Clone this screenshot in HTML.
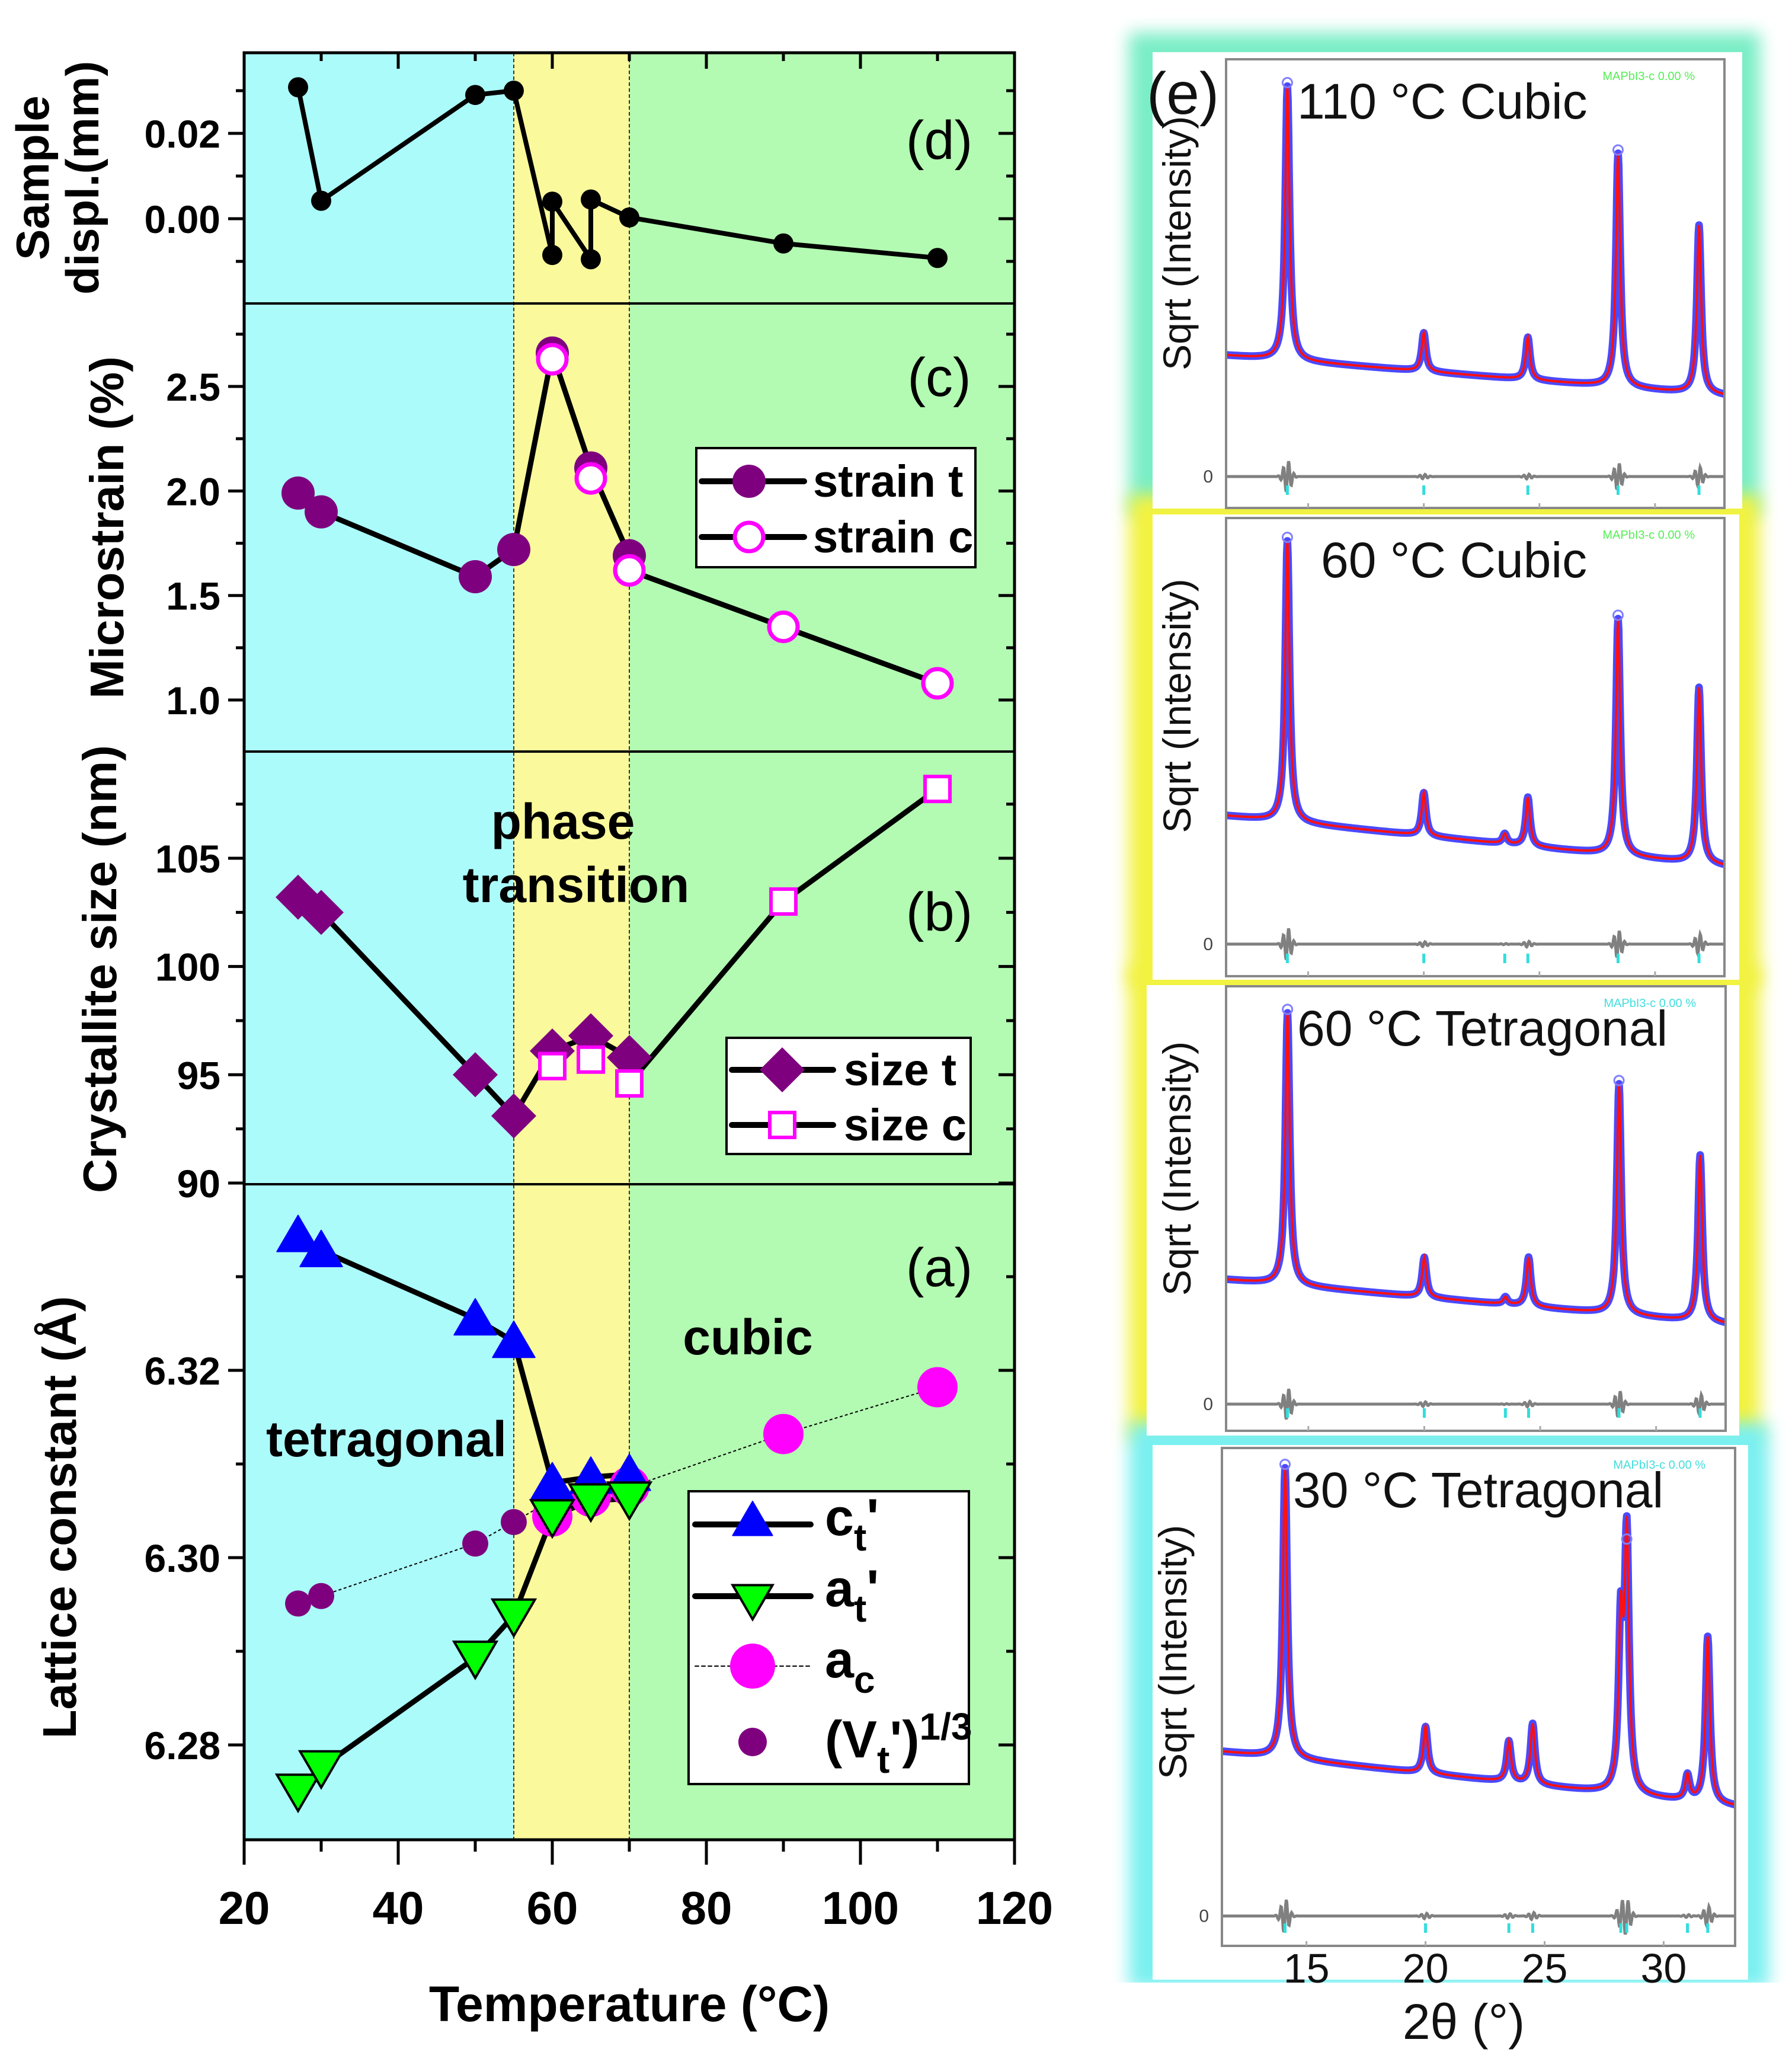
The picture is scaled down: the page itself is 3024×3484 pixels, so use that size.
<!DOCTYPE html>
<html><head><meta charset="utf-8">
<style>
html,body{margin:0;padding:0;background:#fff;}
svg{display:block;}
text{font-family:"Liberation Sans",sans-serif;}
</style></head>
<body>
<svg id="fig" xmlns="http://www.w3.org/2000/svg" width="3024" height="3484" viewBox="0 0 3024 3484">
<defs>
<filter id="blur" x="-10%" y="-10%" width="120%" height="120%"><feGaussianBlur stdDeviation="14"/></filter>
</defs>
</svg>
<script>
// ---------- data: left chart ----------
const dispT = [27, 30, 50, 55, 60, 60, 65, 65, 70, 90, 110];
const dispV = [0.0308, 0.0042, 0.0290, 0.0300, -0.0085, 0.0040, -0.0095, 0.0045, 0.0003, -0.0058, -0.0092];
const strainT_T = [27, 30, 50, 55, 60, 65, 70];
const strainT_V = [1.99, 1.90, 1.59, 1.72, 2.66, 2.11, 1.69];
const strainC_T = [60, 65, 70, 90, 110];
const strainC_V = [2.63, 2.06, 1.62, 1.35, 1.08];
const sizeT_T = [27, 30, 50, 55, 60, 65, 70];
const sizeT_V = [103.2, 102.5, 95.0, 93.1, 96.1, 96.8, 95.8];
const sizeC_T = [60, 65, 70, 90, 110];
const sizeC_V = [95.4, 95.7, 94.6, 103.0, 108.2];
const ct_T = [27, 30, 50, 55, 60, 65, 70];
const ct_V = [6.3344, 6.3328, 6.3255, 6.3231, 6.3080, 6.3086, 6.3089];
const at_T = [27, 30, 50, 55, 60, 65, 70];
const at_V = [6.2751, 6.2776, 6.2893, 6.2938, 6.3044, 6.3061, 6.3063];
const ac_T = [60, 65, 70, 90, 110];
const ac_V = [6.3044, 6.3065, 6.3076, 6.3132, 6.3182];
const vt_T = [27, 30, 50, 55, 60, 65, 70];
const vt_V = [6.2951, 6.2959, 6.3015, 6.3038, 6.3062, 6.3072, 6.3075];
const xTicks = [20, 40, 60, 80, 100, 120];
const dTicks = [0.00, 0.02];  const dTickLabels = ["0.00", "0.02"];
const cTicks = [1.0, 1.5, 2.0, 2.5]; const cTickLabels = ["1.0", "1.5", "2.0", "2.5"];
const bTicks = [90, 95, 100, 105]; const bTickLabels = ["90", "95", "100", "105"];
const aTicks = [6.28, 6.30, 6.32]; const aTickLabels = ["6.28", "6.30", "6.32"];
// ---------- data: XRD panels (fractions of frame height) ----------
const xrdTitles = ["110 \u00B0C  Cubic", "60 \u00B0C  Cubic", "60 \u00B0C  Tetragonal", "30 \u00B0C  Tetragonal"];
const xrdPeakPos1 = [14.1, 20.0, 24.5, 28.4, 31.9];
const xrdPeakTop1 = [0.94, 0.39, 0.38, 0.79, 0.63];
const xrdPeakPos2 = [14.1, 20.0, 23.5, 24.5, 28.4, 31.9];
const xrdPeakTop2 = [0.95, 0.40, 0.31, 0.39, 0.78, 0.63];
const xrdPeakPos3 = [14.1, 20.0, 23.5, 24.5, 28.4, 31.9];
const xrdPeakTop3 = [0.94, 0.39, 0.30, 0.39, 0.78, 0.62];
const xrdPeakPos4 = [14.1, 20.0, 23.5, 24.5, 28.2, 28.45, 31.0, 31.85];
const xrdPeakTop4 = [0.96, 0.44, 0.41, 0.445, 0.63, 0.81, 0.34, 0.62];
const xrdBaseL = [0.34, 0.35, 0.34, 0.39];
const xrdBaseR = [0.25, 0.24, 0.24, 0.28];
const xrdDiff = [0.07, 0.07, 0.06, 0.06];
const xrdXTicks = [15, 20, 25, 30];

const svg = document.getElementById('fig');
const NS = 'http://www.w3.org/2000/svg';
function mk(tag, attrs, parent) {
  const e = document.createElementNS(NS, tag);
  for (const k in attrs) e.setAttribute(k, attrs[k]);
  (parent || svg).appendChild(e);
  return e;
}
function txt(s, attrs, parent) { const e = mk('text', attrs, parent); e.textContent = s; return e; }

const XL = 412, XR = 1712;
const xp = t => XL + (t - 20) * 13;
const yd = v => 369 - 7200 * v;
const yc = v => 652 - (v - 2.5) * 352.7;
const yb = v => 1448 - (v - 105) * 36.53;
const ya = v => 2312 - (v - 6.32) * 15800;
const PT = [89, 512, 1268, 1998, 3104];

let r;
r = mk('rect', {x: XL, y: PT[0], width: xp(55) - XL, height: PT[4] - PT[0], fill: '#acfbfb'});
 
r = mk('rect', {x: xp(55), y: PT[0], width: xp(70) - xp(55), height: PT[4] - PT[0], fill: '#fafa9c'});
 
r = mk('rect', {x: xp(70), y: PT[0], width: XR - xp(70), height: PT[4] - PT[0], fill: '#b3fbb2'});
 
[55, 70].forEach(t => {
  const l = mk('line', {x1: xp(t), x2: xp(t), y1: PT[0], y2: PT[4], stroke: '#333', 'stroke-width': 2, 'stroke-dasharray': '6 4'});
   
});

function label(s, x, y, size, anchor, name, bold) {
  const t = txt(s, {x: x, y: y, 'font-size': size, 'text-anchor': anchor || 'start', 'font-weight': bold === false ? 'normal' : 'bold'});
   
  return t;
}
label('phase', 950, 1415, 84, 'middle', 'phase-label');
label('transition', 972, 1522, 84, 'middle', 'transition-label');
label('cubic', 1262, 2285, 84, 'middle', 'cubic-label');
label('tetragonal', 652, 2457, 84, 'middle', 'tetragonal-label');
label('(d)', 1585, 268, 92, 'middle', 'panel-d-label', false);
label('(c)', 1585, 668, 92, 'middle', 'panel-c-label', false);
label('(b)', 1585, 1570, 92, 'middle', 'panel-b-label', false);
label('(a)', 1585, 2170, 92, 'middle', 'panel-a-label', false);

function polyline(T, V, yf, opts, name) {
  const pts = T.map((t, i) => xp(t) + ',' + yf(V[i])).join(' ');
  const p = mk('polyline', Object.assign({points: pts, fill: 'none', stroke: '#000', 'stroke-width': 9, 'stroke-linejoin': 'round'}, opts));
   
}
function marker(kind, x, y, s, fill, stroke, sw) {
  let e;
  if (kind === 'circle') e = mk('circle', {cx: x, cy: y, r: s, fill: fill, stroke: stroke, 'stroke-width': sw});
  else if (kind === 'up') e = mk('polygon', {points: `${x},${y - s} ${x - s * 1.05},${y + s * 0.8} ${x + s * 1.05},${y + s * 0.8}`, fill: fill, stroke: stroke, 'stroke-width': sw, 'stroke-linejoin': 'round'});
  else if (kind === 'down') e = mk('polygon', {points: `${x},${y + s} ${x - s * 1.05},${y - s * 0.8} ${x + s * 1.05},${y - s * 0.8}`, fill: fill, stroke: stroke, 'stroke-width': sw});
  else if (kind === 'diamond') e = mk('polygon', {points: `${x},${y - s} ${x + s},${y} ${x},${y + s} ${x - s},${y}`, fill: fill, stroke: stroke, 'stroke-width': sw});
  else if (kind === 'square') e = mk('rect', {x: x - s, y: y - s, width: 2 * s, height: 2 * s, fill: fill, stroke: stroke, 'stroke-width': sw});
  return e;
}
function points(T, V, yf, kind, s, fill, stroke, sw, name) {
  T.forEach((t, i) => {
    const e = marker(kind, xp(t), yf(V[i]), s, fill, stroke, sw);
     
  });
}
polyline(dispT, dispV, yd, {'stroke-width': 8}, 'displacement-line');
points(dispT, dispV, yd, 'circle', 17, '#000', 'none', 0, 'displacement-point');
polyline(strainT_T, strainT_V, yc, {}, 'strain-t-line');
polyline(strainC_T.slice(2), strainC_V.slice(2), yc, {}, 'strain-c-line');
points(strainT_T, strainT_V, yc, 'circle', 28, '#7f007f', 'none', 0, 'strain-t-point');
points(strainC_T, strainC_V, yc, 'circle', 24, '#fff', '#ff00ff', 7, 'strain-c-point');
polyline(sizeT_T, sizeT_V, yb, {}, 'size-t-line');
polyline(sizeC_T.slice(2), sizeC_V.slice(2), yb, {}, 'size-c-line');
points(sizeT_T, sizeT_V, yb, 'diamond', 38, '#7f007f', 'none', 0, 'size-t-point');
points(sizeC_T, sizeC_V, yb, 'square', 21, '#fff', '#ff00ff', 6, 'size-c-point');
polyline(vt_T.concat(ac_T.slice(3)), vt_V.concat(ac_V.slice(3)), ya, {'stroke-width': 2, 'stroke-dasharray': '5 4'}, 'ac-trend-line');
polyline(ct_T, ct_V, ya, {}, 'ct-line');
polyline(at_T, at_V, ya, {}, 'at-line');
points(ac_T, ac_V, ya, 'circle', 34, '#ff00ff', 'none', 0, 'ac-point');
points(vt_T, vt_V, ya, 'circle', 22, '#7f007f', 'none', 0, 'vt-point');
points(ct_T, ct_V, ya, 'up', 34, '#0000ff', '#0000ff', 2, 'ct-point');
points(at_T, at_V, ya, 'down', 34, '#00ff00', '#000', 4, 'at-point');

for (let i = 1; i < 4; i++) {
  const l = mk('line', {x1: XL, x2: XR, y1: PT[i], y2: PT[i], stroke: '#000', 'stroke-width': 4});
   
}
r = mk('rect', {x: XL, y: PT[0], width: XR - XL, height: PT[4] - PT[0], fill: 'none', stroke: '#000', 'stroke-width': 5});
 

function yTicks(ticks, labels, yf, minors, top, bot, name) {
  ticks.forEach((v, i) => {
    const y = yf(v);
    mk('line', {x1: XL - 27, x2: XL, y1: y, y2: y, stroke: '#000', 'stroke-width': 5});
    mk('line', {x1: XR - 27, x2: XR, y1: y, y2: y, stroke: '#000', 'stroke-width': 5});
    const t = txt(labels[i], {x: XL - 40, y: y + 24, 'font-size': 66, 'font-weight': 'bold', 'text-anchor': 'end'});
     
  });
  minors.forEach(v => {
    const y = yf(v);
    if (y <= top + 4 || y >= bot - 4) return;
    mk('line', {x1: XL - 14, x2: XL, y1: y, y2: y, stroke: '#000', 'stroke-width': 5});
    mk('line', {x1: XR - 14, x2: XR, y1: y, y2: y, stroke: '#000', 'stroke-width': 5});
  });
}
yTicks(dTicks, dTickLabels, yd, [-0.01, 0.01, 0.03], PT[0], PT[1], 'displacement');
yTicks(cTicks, cTickLabels, yc, [1.25, 1.75, 2.25, 2.75], PT[1], PT[2], 'microstrain');
yTicks(bTicks, bTickLabels, yb, [92.5, 97.5, 102.5, 107.5], PT[2], PT[3], 'size');
yTicks(aTicks, aTickLabels, ya, [6.27, 6.29, 6.31, 6.33], PT[3], PT[4], 'lattice');
xTicks.forEach(v => {
  const x = xp(v);
  mk('line', {x1: x, x2: x, y1: PT[4], y2: PT[4] + 42, stroke: '#000', 'stroke-width': 5});
  mk('line', {x1: x, x2: x, y1: PT[0], y2: PT[0] + 27, stroke: '#000', 'stroke-width': 5});
  const t = txt(String(v), {x: x, y: 3246, 'font-size': 78, 'font-weight': 'bold', 'text-anchor': 'middle'});
   
});
[30, 50, 70, 90, 110].forEach(v => {
  const x = xp(v);
  mk('line', {x1: x, x2: x, y1: PT[4], y2: PT[4] + 20, stroke: '#000', 'stroke-width': 5});
  mk('line', {x1: x, x2: x, y1: PT[0], y2: PT[0] + 14, stroke: '#000', 'stroke-width': 5});
});
label('Temperature (\u00B0C)', 1062, 3410, 84, 'middle', 'x-axis-title');
function ytitle(s, x, y, name, size) {
  const t = txt(s, {x: 0, y: 0, 'font-size': size || 80, 'font-weight': 'bold', 'text-anchor': 'middle', transform: `translate(${x},${y}) rotate(-90)`});
   
}
ytitle('Sample', 82, 300, 'displacement-axis-title-1', 78);
ytitle('displ.(mm)', 166, 300, 'displacement-axis-title-2', 78);
ytitle('Microstrain (%)', 208, 890, 'microstrain-axis-title');
ytitle('Crystallite size (nm)', 196, 1635, 'size-axis-title');
ytitle('Lattice constant (\u00C5)', 128, 2560, 'lattice-axis-title');

function legendBox(x, y, w, h, name) {
  const b = mk('rect', {x: x, y: y, width: w, height: h, fill: '#fff', stroke: '#000', 'stroke-width': 4});
   
}
function legendLine(x1, x2, y, dashed) {
  mk('line', {x1: x1, x2: x2, y1: y, y2: y, stroke: '#000', 'stroke-width': dashed ? 2 : 10, 'stroke-linecap': 'round', 'stroke-dasharray': dashed ? '6 5' : 'none'});
}
legendBox(1175, 756, 471, 201, 'strain-legend');
legendLine(1184, 1357, 812); marker('circle', 1264, 812, 28, '#7f007f', 'none', 0);
legendLine(1184, 1357, 906); marker('circle', 1264, 906, 24, '#fff', '#ff00ff', 7);
label('strain t', 1372, 838, 76, 'start', 'legend-strain-t');
label('strain c', 1372, 932, 76, 'start', 'legend-strain-c');
legendBox(1226, 1751, 412, 196, 'size-legend');
legendLine(1235, 1406, 1805); marker('diamond', 1320, 1805, 38, '#7f007f', 'none', 0);
legendLine(1235, 1406, 1898); marker('square', 1320, 1898, 21, '#fff', '#ff00ff', 6);
label('size t', 1424, 1831, 76, 'start', 'legend-size-t');
label('size c', 1424, 1924, 76, 'start', 'legend-size-c');
legendBox(1162, 2516, 473, 494, 'lattice-legend');
legendLine(1173, 1368, 2572); marker('up', 1270, 2565, 32, '#0000ff', '#0000ff', 2);
legendLine(1173, 1368, 2693); marker('down', 1270, 2700, 32, '#00ff00', '#000', 4);
legendLine(1173, 1368, 2811, true); marker('circle', 1270, 2811, 38, '#ff00ff', 'none', 0);
marker('circle', 1270, 2939, 24, '#7f007f', 'none', 0);
function subLabel(main, sub, post, sup, x, y, name) {
  const t = txt('', {x: x, y: y, 'font-size': 88, 'font-weight': 'bold'});
   
  const a = mk('tspan', {}, t); a.textContent = main;
  const b = mk('tspan', {dy: 26, 'font-size': 64}, t); b.textContent = sub;
  if (post) { const c = mk('tspan', {dy: -26}, t); c.textContent = post; }
  if (sup) { const d = mk('tspan', {dy: -30, 'font-size': 64}, t); d.textContent = sup; }
}
subLabel('c', 't', "'", null, 1392, 2590, 'legend-ct');
subLabel('a', 't', "'", null, 1392, 2710, 'legend-at');
subLabel('a', 'c', null, null, 1392, 2830, 'legend-ac');
subLabel('(V', 't', "')", '1/3', 1392, 2965, 'legend-vt');

const xrdFrames = [
  {x: 2069, y: 100, w: 841, h: 757, glow: '#7aeec6', gx: 1905, gy: 55, gw: 1065, gh: 815, ix: 1945, iy: 88, iw: 995, ih: 770},
  {x: 2069, y: 874, w: 841, h: 773, glow: '#f2f240', gx: 1905, gy: 835, gw: 1065, gh: 830, ix: 1945, iy: 868, iw: 990, ih: 785},
  {x: 2069, y: 1664, w: 843, h: 750, glow: '#f2f240', gx: 1905, gy: 1630, gw: 1065, gh: 800, ix: 1935, iy: 1662, iw: 1000, ih: 760},
  {x: 2062, y: 2443, w: 866, h: 840, glow: '#7af0f0', gx: 1905, gy: 2400, gw: 1080, gh: 955, ix: 1945, iy: 2438, iw: 1005, ih: 902}
];
const xrdPos = [xrdPeakPos1, xrdPeakPos2, xrdPeakPos3, xrdPeakPos4];
const xrdTop = [xrdPeakTop1, xrdPeakTop2, xrdPeakTop3, xrdPeakTop4];
const X2MIN = 11.45, X2MAX = 33.0;
xrdFrames.forEach((f, k) => {
  const g = mk('rect', {x: f.gx, y: f.gy, width: f.gw, height: f.gh, fill: f.glow, filter: 'url(#blur)'});
   
});
mk('rect', {x: 1880, y: 3345, width: 1144, height: 139, fill: '#fff'});
xrdFrames.forEach((f, k) => {
  const w = mk('rect', {x: f.ix, y: f.iy, width: f.iw, height: f.ih, fill: '#fff'});
   
});
xrdFrames.forEach((f, k) => {
  const px = x => f.x + (x - X2MIN) / (X2MAX - X2MIN) * f.w;
  const py = fr => f.y + f.h - fr * f.h;
  const base = x => xrdBaseL[k] + (xrdBaseR[k] - xrdBaseL[k]) * (x - X2MIN) / (X2MAX - X2MIN);
  const pos = xrdPos[k], top = xrdTop[k];
  const hts = pos.map((c, i) => top[i] - base(c));
  const wid = 0.11;
  let d = '', dd = '';
  for (let x = X2MIN; x <= X2MAX + 1e-9; x += 0.025) {
    let v = base(x);
    let diff = 0;
    pos.forEach((c, i) => {
      const u = (x - c) / wid;
      v += hts[i] / (1 + u * u);
      diff += (hts[i] * 0.06) * Math.exp(-u * u / 4) * Math.sin(u * 3);
    });
    d += (d ? 'L' : 'M') + px(x).toFixed(1) + ',' + py(v).toFixed(1);
    dd += (dd ? 'L' : 'M') + px(x).toFixed(1) + ',' + py(xrdDiff[k] + diff).toFixed(1);
  }
  let e = mk('path', {d: d, fill: 'none', stroke: '#2a2aff', 'stroke-width': 13, 'stroke-opacity': 0.85, 'stroke-linejoin': 'round'});
   
  e = mk('path', {d: d, fill: 'none', stroke: '#ff1010', 'stroke-width': 4});
   
  pos.forEach((c, i) => {
    if (top[i] > 0.75) {
      const m = mk('circle', {cx: px(c), cy: py(top[i]) - 6, r: 8, fill: 'none', stroke: '#7f7fff', 'stroke-width': 3});
       
    }
  });
  e = mk('path', {d: dd, fill: 'none', stroke: '#808080', 'stroke-width': 5});
   
  const fr = mk('rect', {x: f.x, y: f.y, width: f.w, height: f.h, fill: 'none', stroke: '#888', 'stroke-width': 4});
   
  const zl = txt('0', {x: f.x - 22, y: py(xrdDiff[k]) + 10, 'font-size': 30, 'text-anchor': 'end', fill: '#444'});
   
  const tl = txt(xrdTitles[k], {x: f.x + (k === 1 ? 160 : 120), y: f.y + 100, 'font-size': 84, fill: '#111'});
   
  const ph = txt('MAPbI3-c  0.00 %', {x: f.x + f.w - 50, y: f.y + 35, 'font-size': 20, 'text-anchor': 'end', fill: k === 0 || k === 1 ? '#55ee55' : '#44dddd'});
   
  const yl = txt('Sqrt (Intensity)', {x: 0, y: 0, 'font-size': 66, 'text-anchor': 'middle', fill: '#111', transform: `translate(${f.x - 60},${f.y + f.h * 0.41}) rotate(-90)`});
   
  xrdXTicks.forEach(v => {
    mk('line', {x1: px(v), x2: px(v), y1: f.y + f.h, y2: f.y + f.h - 8, stroke: '#aaa', 'stroke-width': 3});
    if (k === 3) {
      const t = txt(String(v), {x: px(v), y: 3345, 'font-size': 70, 'text-anchor': 'middle', fill: '#111'});
       
    }
  });
  pos.forEach(c => {
    mk('line', {x1: px(c), x2: px(c), y1: f.y + f.h - 38, y2: f.y + f.h - 22, stroke: '#33dddd', 'stroke-width': 5});
  });
});
let ee = txt('(e)', {x: 1935, y: 192, 'font-size': 100, fill: '#111'});
 
ee = txt('2\u03B8 (\u00B0)', {x: 2470, y: 3440, 'font-size': 84, 'text-anchor': 'middle', fill: '#111'});
 
</script>
</body></html>
